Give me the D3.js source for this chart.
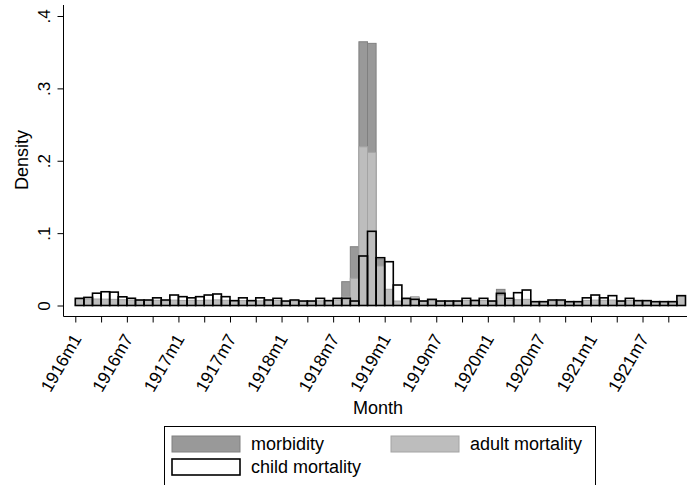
<!DOCTYPE html>
<html>
<head>
<meta charset="utf-8">
<script src="https://cdn.jsdelivr.net/npm/d3@7/dist/d3.min.js"></script>
<style>
  body { margin: 0; background: #fff; }
  svg text { font-family: Arial, "Liberation Sans", sans-serif; fill: #000; }
</style>
</head>
<body>
<svg id="chart" width="688" height="485"></svg>
<script>
// months 1916m1 .. 1921m11
var years = [1916, 1917, 1918, 1919, 1920, 1921];
var months = [];
years.forEach(function(y) {
    for (var m = 1; m <= 12; m++) {
        if (y === 1921 && m === 12) break;
        months.push(y + "m" + m);
    }
});

var tickLabels = ["1916m1", "1916m7", "1917m1", "1917m7", "1918m1", "1918m7",
                  "1919m1", "1919m7", "1920m1", "1920m7", "1921m1", "1921m7"];
var yTicks = [0, 0.1, 0.2, 0.3, 0.4];
var yTickLabels = ["0", ".1", ".2", ".3", ".4"];

// density per month
var morbidity = [
    0.0010, 0.0008, 0.0012, 0.0010, 0.0008, 0.0006, 0.0005, 0.0005, 0.0006, 0.0008,
    0.0005, 0.0008, 0.0006, 0.0006, 0.0008, 0.0010, 0.0008, 0.0006, 0.0005, 0.0006,
    0.0005, 0.0006, 0.0005, 0.0006, 0.0005, 0.0005, 0.0005, 0.0005, 0.0006, 0.0005,
    0.0010, 0.0329, 0.0812, 0.3644, 0.3622, 0.0640, 0.0120, 0.0040, 0.0030, 0.0110,
    0.0008, 0.0008, 0.0005, 0.0005, 0.0005, 0.0006, 0.0005, 0.0006, 0.0005, 0.0223,
    0.0006, 0.0008, 0.0008, 0.0005, 0.0005, 0.0005, 0.0005, 0.0005, 0.0005, 0.0006,
    0.0006, 0.0006, 0.0006, 0.0005, 0.0005, 0.0005, 0.0005, 0.0005, 0.0005, 0.0005,
    0.0008
];
var adultMortality = [
    0.0085, 0.0090, 0.0090, 0.0088, 0.0085, 0.0080, 0.0075, 0.0070, 0.0068, 0.0072,
    0.0065, 0.0075, 0.0070, 0.0072, 0.0070, 0.0075, 0.0078, 0.0072, 0.0060, 0.0068,
    0.0060, 0.0065, 0.0062, 0.0068, 0.0055, 0.0060, 0.0055, 0.0058, 0.0065, 0.0060,
    0.0075, 0.0120, 0.0376, 0.2193, 0.2116, 0.0546, 0.0224, 0.0062, 0.0085, 0.0122,
    0.0060, 0.0070, 0.0058, 0.0058, 0.0058, 0.0068, 0.0062, 0.0068, 0.0058, 0.0140,
    0.0075, 0.0080, 0.0085, 0.0050, 0.0050, 0.0062, 0.0062, 0.0050, 0.0050, 0.0070,
    0.0075, 0.0072, 0.0075, 0.0058, 0.0068, 0.0060, 0.0060, 0.0050, 0.0050, 0.0050,
    0.0130
];
var childMortality = [
    0.0099, 0.0112, 0.0170, 0.0190, 0.0185, 0.0120, 0.0100, 0.0076, 0.0076, 0.0106,
    0.0076, 0.0145, 0.0122, 0.0106, 0.0122, 0.0145, 0.0159, 0.0122, 0.0067, 0.0106,
    0.0067, 0.0106, 0.0076, 0.0099, 0.0062, 0.0076, 0.0062, 0.0062, 0.0099, 0.0067,
    0.0099, 0.0099, 0.0062, 0.0684, 0.1025, 0.0660, 0.0605, 0.0283, 0.0099, 0.0085,
    0.0062, 0.0085, 0.0062, 0.0062, 0.0062, 0.0099, 0.0070, 0.0099, 0.0062, 0.0168,
    0.0099, 0.0177, 0.0214, 0.0053, 0.0053, 0.0076, 0.0076, 0.0053, 0.0053, 0.0106,
    0.0145, 0.0106, 0.0136, 0.0062, 0.0099, 0.0067, 0.0067, 0.0053, 0.0053, 0.0053,
    0.0136
];

function InitChart() {
    var svg = d3.select("#chart"),
        AXIS_Y = 316.5,
        AXIS_X = 63.5,
        xScale = d3.scaleLinear().domain([0, 69]).range([75.3, 668.3]),
        yScale = d3.scaleLinear().domain([0, 0.4]).range([305.5, 16]);

    var series = [
        { name: "morbidity", values: morbidity, fill: "#999999", stroke: "#808080", sw: 1 },
        { name: "adult mortality", values: adultMortality, fill: "#bdbdbd", stroke: "#a4a4a4", sw: 1 },
        { name: "child mortality", values: childMortality, fill: "none", stroke: "#000000", sw: 1.6 }
    ];

    // bars
    series.forEach(function(s) {
        svg.append("g")
            .selectAll("rect")
            .data(s.values)
            .enter().append("rect")
            .attr("x", function(d, i) { return xScale(i); })
            .attr("width", function(d, i) { return xScale(i + 1) - xScale(i); })
            .attr("y", function(d) { return yScale(d); })
            .attr("height", function(d) { return yScale(0) - yScale(d); })
            .attr("fill", s.fill)
            .attr("stroke", s.stroke)
            .attr("stroke-width", s.sw);
    });

    // axis lines
    svg.append("line")
        .attr("x1", AXIS_X).attr("x2", AXIS_X)
        .attr("y1", 5).attr("y2", AXIS_Y)
        .attr("stroke", "#000").attr("stroke-width", 1);
    svg.append("line")
        .attr("x1", AXIS_X).attr("x2", 687)
        .attr("y1", AXIS_Y).attr("y2", AXIS_Y)
        .attr("stroke", "#000").attr("stroke-width", 1);

    // y axis
    var yAxis = d3.axisLeft(yScale)
        .tickValues(yTicks)
        .tickSize(6)
        .tickPadding(8)
        .tickFormat(function(d, i) { return yTickLabels[i]; });
    var gy = svg.append("g")
        .attr("transform", "translate(" + AXIS_X + ",0)")
        .call(yAxis);
    gy.select(".domain").remove();
    gy.selectAll("text")
        .attr("x", 0).attr("dy", null)
        .attr("text-anchor", "middle")
        .attr("font-size", 17)
        .attr("transform", "translate(-14,0) rotate(-90)");

    // x axis, ticks every 3 months, labels every 6
    var xAxis = d3.axisBottom(xScale)
        .tickValues(d3.range(0, 70, 3))
        .tickSize(6)
        .tickFormat(function(d) { return d % 6 === 0 ? tickLabels[d / 6] : ""; });
    var gx = svg.append("g")
        .attr("transform", "translate(0," + AXIS_Y + ")")
        .call(xAxis);
    gx.select(".domain").remove();
    gx.selectAll("text")
        .attr("x", 0).attr("y", 0)
        .attr("dy", "0.35em")
        .attr("text-anchor", "end")
        .attr("font-size", 17.5)
        .attr("transform", "translate(1,19) rotate(-60)");

    // axis titles
    svg.append("text")
        .attr("transform", "translate(28,160) rotate(-90)")
        .attr("text-anchor", "middle")
        .attr("font-size", 18)
        .text("Density");
    svg.append("text")
        .attr("x", 378).attr("y", 414)
        .attr("text-anchor", "middle")
        .attr("font-size", 18)
        .text("Month");

    // legend
    var lg = svg.append("g");
    lg.append("rect")
        .attr("x", 164.5).attr("y", 426.5)
        .attr("width", 431).attr("height", 70)
        .attr("fill", "#fff").attr("stroke", "#000").attr("stroke-width", 1);
    var keys = [
        { s: series[0], x: 172, y: 436 },
        { s: series[1], x: 391, y: 436 },
        { s: series[2], x: 172, y: 459 }
    ];
    keys.forEach(function(k) {
        lg.append("rect")
            .attr("x", k.x).attr("y", k.y)
            .attr("width", 68).attr("height", 16)
            .attr("fill", k.s.fill === "none" ? "#fff" : k.s.fill)
            .attr("stroke", k.s.stroke)
            .attr("stroke-width", k.s.sw);
        lg.append("text")
            .attr("x", k.x + 79).attr("y", k.y + 14)
            .attr("font-size", 18)
            .text(k.s.name);
    });
}
InitChart();
</script>
</body>
</html>
